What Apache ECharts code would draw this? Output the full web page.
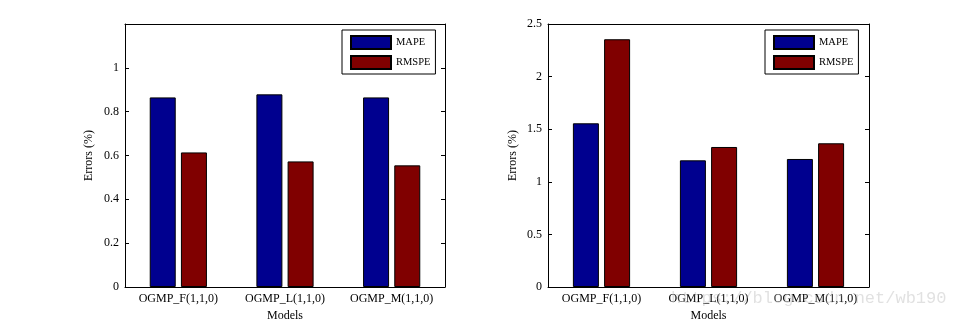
<!DOCTYPE html>
<html>
<head>
<meta charset="utf-8">
<script src="https://cdn.jsdelivr.net/npm/echarts@6/dist/echarts.min.js"></script>
<style>
  html, body { margin: 0; padding: 0; background: #fff; }
  #chart { width: 960px; height: 323px; }
</style>
</head>
<body>
<div id="chart"></div>
<script>
// Model names along the x axis
const models = ['OGMP_F(1,1,0)', 'OGMP_L(1,1,0)', 'OGMP_M(1,1,0)'];
const seriesNames = ['MAPE', 'RMSPE'];

// Left panel errors (%)
const leftMAPE = [0.865, 0.879, 0.865];
const leftRMSPE = [0.614, 0.573, 0.555];

// Right panel errors (%)
const rightMAPE = [1.556, 1.204, 1.217];
const rightRMSPE = [2.355, 1.331, 1.366];

const FONT = 'Liberation Serif';
const BLUE = '#00008f';
const RED = '#800000';

const chart = echarts.init(document.getElementById('chart'), null, { renderer: 'canvas' });

function catAxes(gridIndex) {
  return [
    {
      type: 'category', gridIndex, data: models, position: 'bottom',
      name: 'Models', nameLocation: 'middle', nameGap: 22,
      nameTextStyle: { fontFamily: FONT, fontSize: 12, color: '#000' },
      axisLine: { onZero: false, lineStyle: { color: '#000', width: 1 } },
      axisTick: { inside: true, alignWithLabel: true, length: 4, lineStyle: { color: '#000' } },
      axisLabel: { fontFamily: FONT, fontSize: 12, color: '#000', margin: 6, interval: 0, hideOverlap: false },
      splitLine: { show: false }
    },
    {
      type: 'category', gridIndex, data: models, position: 'top',
      axisLine: { onZero: false, lineStyle: { color: '#000', width: 1 } },
      axisTick: { inside: true, alignWithLabel: true, length: 4, lineStyle: { color: '#000' } },
      axisLabel: { show: false },
      splitLine: { show: false }
    }
  ];
}

function valAxes(gridIndex, max, interval, hideTop, nameGap) {
  return [
    {
      type: 'value', gridIndex, min: 0, max, interval, position: 'left',
      name: 'Errors (%)', nameLocation: 'middle', nameGap,
      nameTextStyle: { fontFamily: FONT, fontSize: 12, color: '#000' },
      axisLine: { show: true, onZero: false, lineStyle: { color: '#000', width: 1 } },
      axisTick: { show: true, inside: true, length: 4, lineStyle: { color: '#000' } },
      axisLabel: {
        fontFamily: FONT, fontSize: 12, color: '#000', margin: 6,
        formatter: v => (hideTop && v > max - interval / 2) ? '' : String(+v.toFixed(2))
      },
      splitLine: { show: false }
    },
    {
      type: 'value', gridIndex, min: 0, max, interval, position: 'right',
      axisLine: { show: true, onZero: false, lineStyle: { color: '#000', width: 1 } },
      axisTick: { show: true, inside: true, length: 4, lineStyle: { color: '#000' } },
      axisLabel: { show: false },
      splitLine: { show: false }
    }
  ];
}

function barSeries(name, data, xi, yi, color) {
  return {
    type: 'bar', name, data, xAxisIndex: xi, yAxisIndex: yi,
    barWidth: 26, barGap: '20%',
    itemStyle: { color, borderColor: '#000', borderWidth: 1 },
    animation: false
  };
}

function legendAt(left) {
  return {
    data: seriesNames, left, top: 30, orient: 'vertical',
    padding: [5, 5, 4, 8], itemWidth: 40, itemHeight: 13, itemGap: 5,
    icon: 'rect',
    backgroundColor: '#fff', borderColor: '#000', borderWidth: 1, borderRadius: 0,
    textStyle: { fontFamily: FONT, fontSize: 10.5, color: '#000', padding: [0, 0, 0, 0] },
    selectedMode: false
  };
}

chart.setOption({
  animation: false,
  backgroundColor: '#fff',
  grid: [
    { left: 125, right: 515, top: 24, bottom: 36, show: false, outerBoundsMode: 'none' },
    { left: 548, right: 91, top: 24, bottom: 36, show: false, outerBoundsMode: 'none' }
  ],
  xAxis: [...catAxes(0), ...catAxes(1)],
  yAxis: [...valAxes(0, 1.2, 0.2, true, 30), ...valAxes(1, 2.5, 0.5, false, 29)],
  legend: [legendAt(342), legendAt(765)],
  series: [
    barSeries('MAPE', leftMAPE, 0, 0, BLUE),
    barSeries('RMSPE', leftRMSPE, 0, 0, RED),
    barSeries('MAPE', rightMAPE, 2, 2, BLUE),
    barSeries('RMSPE', rightRMSPE, 2, 2, RED)
  ],
  graphic: [
    {
      type: 'text', left: 671, top: 290, silent: true, z: 100,
      style: {
        text: 'https://blog.csdn.net/wb190',
        font: '17px "Liberation Mono"',
        fill: 'rgba(175,175,175,0.38)'
      }
    }
  ]
});
</script>
</body>
</html>
